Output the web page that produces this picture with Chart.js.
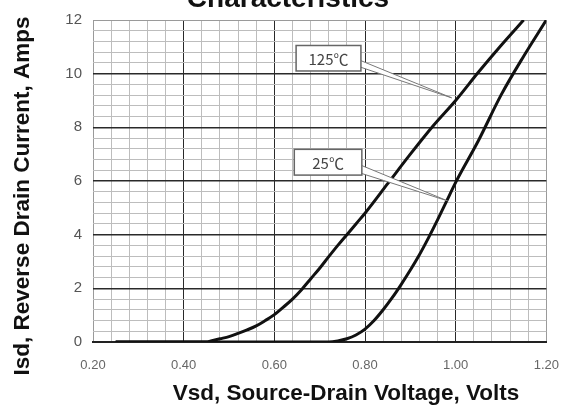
<!DOCTYPE html>
<html>
<head>
<meta charset="utf-8">
<script src="https://cdn.jsdelivr.net/npm/chart.js@4.4.1/dist/chart.umd.min.js"></script>
<style>
  html, body { margin: 0; padding: 0; background: #fff; }
  #wrap { width: 575px; height: 407px; }
</style>
</head>
<body>
<div id="wrap"><canvas id="chart"></canvas></div>
<script>
// Vsd (V) / Isd (A)
const vsd125 = [0.25, 0.30, 0.35, 0.40, 0.45, 0.46, 0.48, 0.50, 0.52, 0.54, 0.56, 0.58, 0.60, 0.62, 0.64, 0.66, 0.68, 0.70, 0.72, 0.74, 0.76, 0.78, 0.80, 0.85, 0.90, 0.95, 1.00, 1.05, 1.10, 1.15];
const isd125 = [0, 0, 0, 0, 0, 0.04, 0.12, 0.2, 0.32, 0.45, 0.6, 0.8, 1.02, 1.3, 1.6, 1.95, 2.35, 2.75, 3.18, 3.6, 4.0, 4.4, 4.8, 5.9, 7.0, 8.05, 9.0, 10.05, 11.05, 12.0];
const vsd25 = [0.25, 0.30, 0.40, 0.50, 0.60, 0.70, 0.72, 0.74, 0.76, 0.78, 0.80, 0.82, 0.84, 0.86, 0.88, 0.90, 0.92, 0.94, 0.96, 0.98, 1.00, 1.05, 1.10, 1.15, 1.20];
const isd25 = [0, 0, 0, 0, 0, 0, 0, 0.04, 0.12, 0.26, 0.48, 0.8, 1.2, 1.65, 2.15, 2.68, 3.25, 3.88, 4.55, 5.25, 5.95, 7.5, 9.2, 10.65, 12.0];

const seriesNames = ['125℃', '25℃'];
const xTickLabels = ['0.20', '0.40', '0.60', '0.80', '1.00', '1.20'];
const yTickLabels = ['0', '2', '4', '6', '8', '10', '12'];

// callout boxes, in data units: box [v1, v2, i1, i2], base of pointer (two currents at v2), tip [v, i]
const callouts = [
  { text: seriesNames[0], box: [0.648, 0.791, 11.05, 10.1], base: [10.5, 10.25], tip: [0.991, 9.1] },
  { text: seriesNames[1], box: [0.644, 0.793, 7.18, 6.22], base: [6.59, 6.29], tip: [0.982, 5.26] }
];

const isMajor = (v, step) => Math.abs(v / step - Math.round(v / step)) < 1e-6;

const decor = {
  id: 'decor',
  afterDatasetsDraw(chart) {
    const { ctx, scales: { x, y } } = chart;
    ctx.save();
    callouts.forEach(c => {
      const x1 = x.getPixelForValue(c.box[0]), x2 = x.getPixelForValue(c.box[1]);
      const y1 = y.getPixelForValue(c.box[2]), y2 = y.getPixelForValue(c.box[3]);
      // pointer
      ctx.beginPath();
      ctx.moveTo(x2 - 1, y.getPixelForValue(c.base[0]));
      ctx.lineTo(x.getPixelForValue(c.tip[0]), y.getPixelForValue(c.tip[1]));
      ctx.lineTo(x2 - 1, y.getPixelForValue(c.base[1]));
      ctx.fillStyle = '#fff';
      ctx.fill();
      ctx.strokeStyle = '#777';
      ctx.lineWidth = 1;
      ctx.stroke();
      // box
      ctx.fillStyle = '#fff';
      ctx.fillRect(x1, y1, x2 - x1, y2 - y1);
      ctx.strokeStyle = '#666';
      ctx.lineWidth = 1.5;
      ctx.strokeRect(x1, y1, x2 - x1, y2 - y1);
      ctx.fillStyle = '#444';
      ctx.font = '15px "Noto Sans CJK SC"';
      ctx.textAlign = 'center';
      ctx.textBaseline = 'middle';
      ctx.fillText(c.text, (x1 + x2) / 2, (y1 + y2) / 2 + 1);
    });
    ctx.restore();
  },
  afterDraw(chart) {
    const ctx = chart.ctx;
    ctx.save();
    ctx.fillStyle = '#111';
    ctx.textAlign = 'center';
    ctx.textBaseline = 'alphabetic';
    ctx.font = 'bold 28px "Liberation Sans"';
    ctx.fillText('Characteristics', 288, 7);
    ctx.font = 'bold 22.5px "Liberation Sans"';
    ctx.fillText('Vsd, Source-Drain Voltage, Volts', 346, 400);
    ctx.translate(29, 196);
    ctx.rotate(-Math.PI / 2);
    ctx.fillText('Isd, Reverse Drain Current, Amps', 0, 0);
    ctx.restore();
  }
};

const gridColor = (ctx, step, last) => {
  const v = ctx.tick.value;
  if (Math.abs(v - last) < 1e-6) return '#9a9a9a';
  return isMajor(v, step) ? '#2a2a2a' : '#bdbdbd';
};

new Chart(document.getElementById('chart'), {
  type: 'line',
  data: {
    datasets: [
      {
        label: seriesNames[0],
        data: vsd125.map((v, i) => ({ x: v, y: isd125[i] })),
        borderColor: '#111',
        borderWidth: 3,
        pointRadius: 0,
        cubicInterpolationMode: 'monotone'
      },
      {
        label: seriesNames[1],
        data: vsd25.map((v, i) => ({ x: v, y: isd25[i] })),
        borderColor: '#111',
        borderWidth: 3,
        pointRadius: 0,
        cubicInterpolationMode: 'monotone'
      }
    ]
  },
  options: {
    responsive: true,
    maintainAspectRatio: false,
    animation: false,
    layout: { padding: { top: 14, right: 27, left: 0, bottom: 0 } },
    plugins: { legend: { display: false }, tooltip: { enabled: false } },
    scales: {
      x: {
        type: 'linear',
        min: 0.2,
        max: 1.2,
        afterFit: s => { s.height = 65; },
        ticks: {
          stepSize: 0.04,
          autoSkip: false,
          maxRotation: 0,
          padding: 16,
          color: '#666',
          font: { family: 'Liberation Sans', size: 13 },
          callback: v => isMajor(v - 0.2, 0.2) ? xTickLabels[Math.round((v - 0.2) / 0.2)] : ''
        },
        grid: {
          drawTicks: false,
          color: c => Math.abs(c.tick.value - 0.2) < 1e-6 ? '#9a9a9a' : gridColor(c, 0.2, 1.2),
          lineWidth: 1
        },
        border: { color: '#222', width: 2 }
      },
      y: {
        min: 0,
        max: 12,
        afterFit: s => { s.width = 93; },
        ticks: {
          stepSize: 0.4,
          autoSkip: false,
          padding: 11,
          color: '#555',
          font: { family: 'Liberation Sans', size: 15 },
          callback: v => isMajor(v, 2) ? yTickLabels[Math.round(v / 2)] : ''
        },
        grid: {
          drawTicks: false,
          color: c => gridColor(c, 2, 12),
          lineWidth: c => isMajor(c.tick.value, 2) && c.tick.value > 0 && c.tick.value < 12 ? 1.5 : 1
        },
        border: { display: false }
      }
    }
  },
  plugins: [decor]
});
</script>
</body>
</html>
